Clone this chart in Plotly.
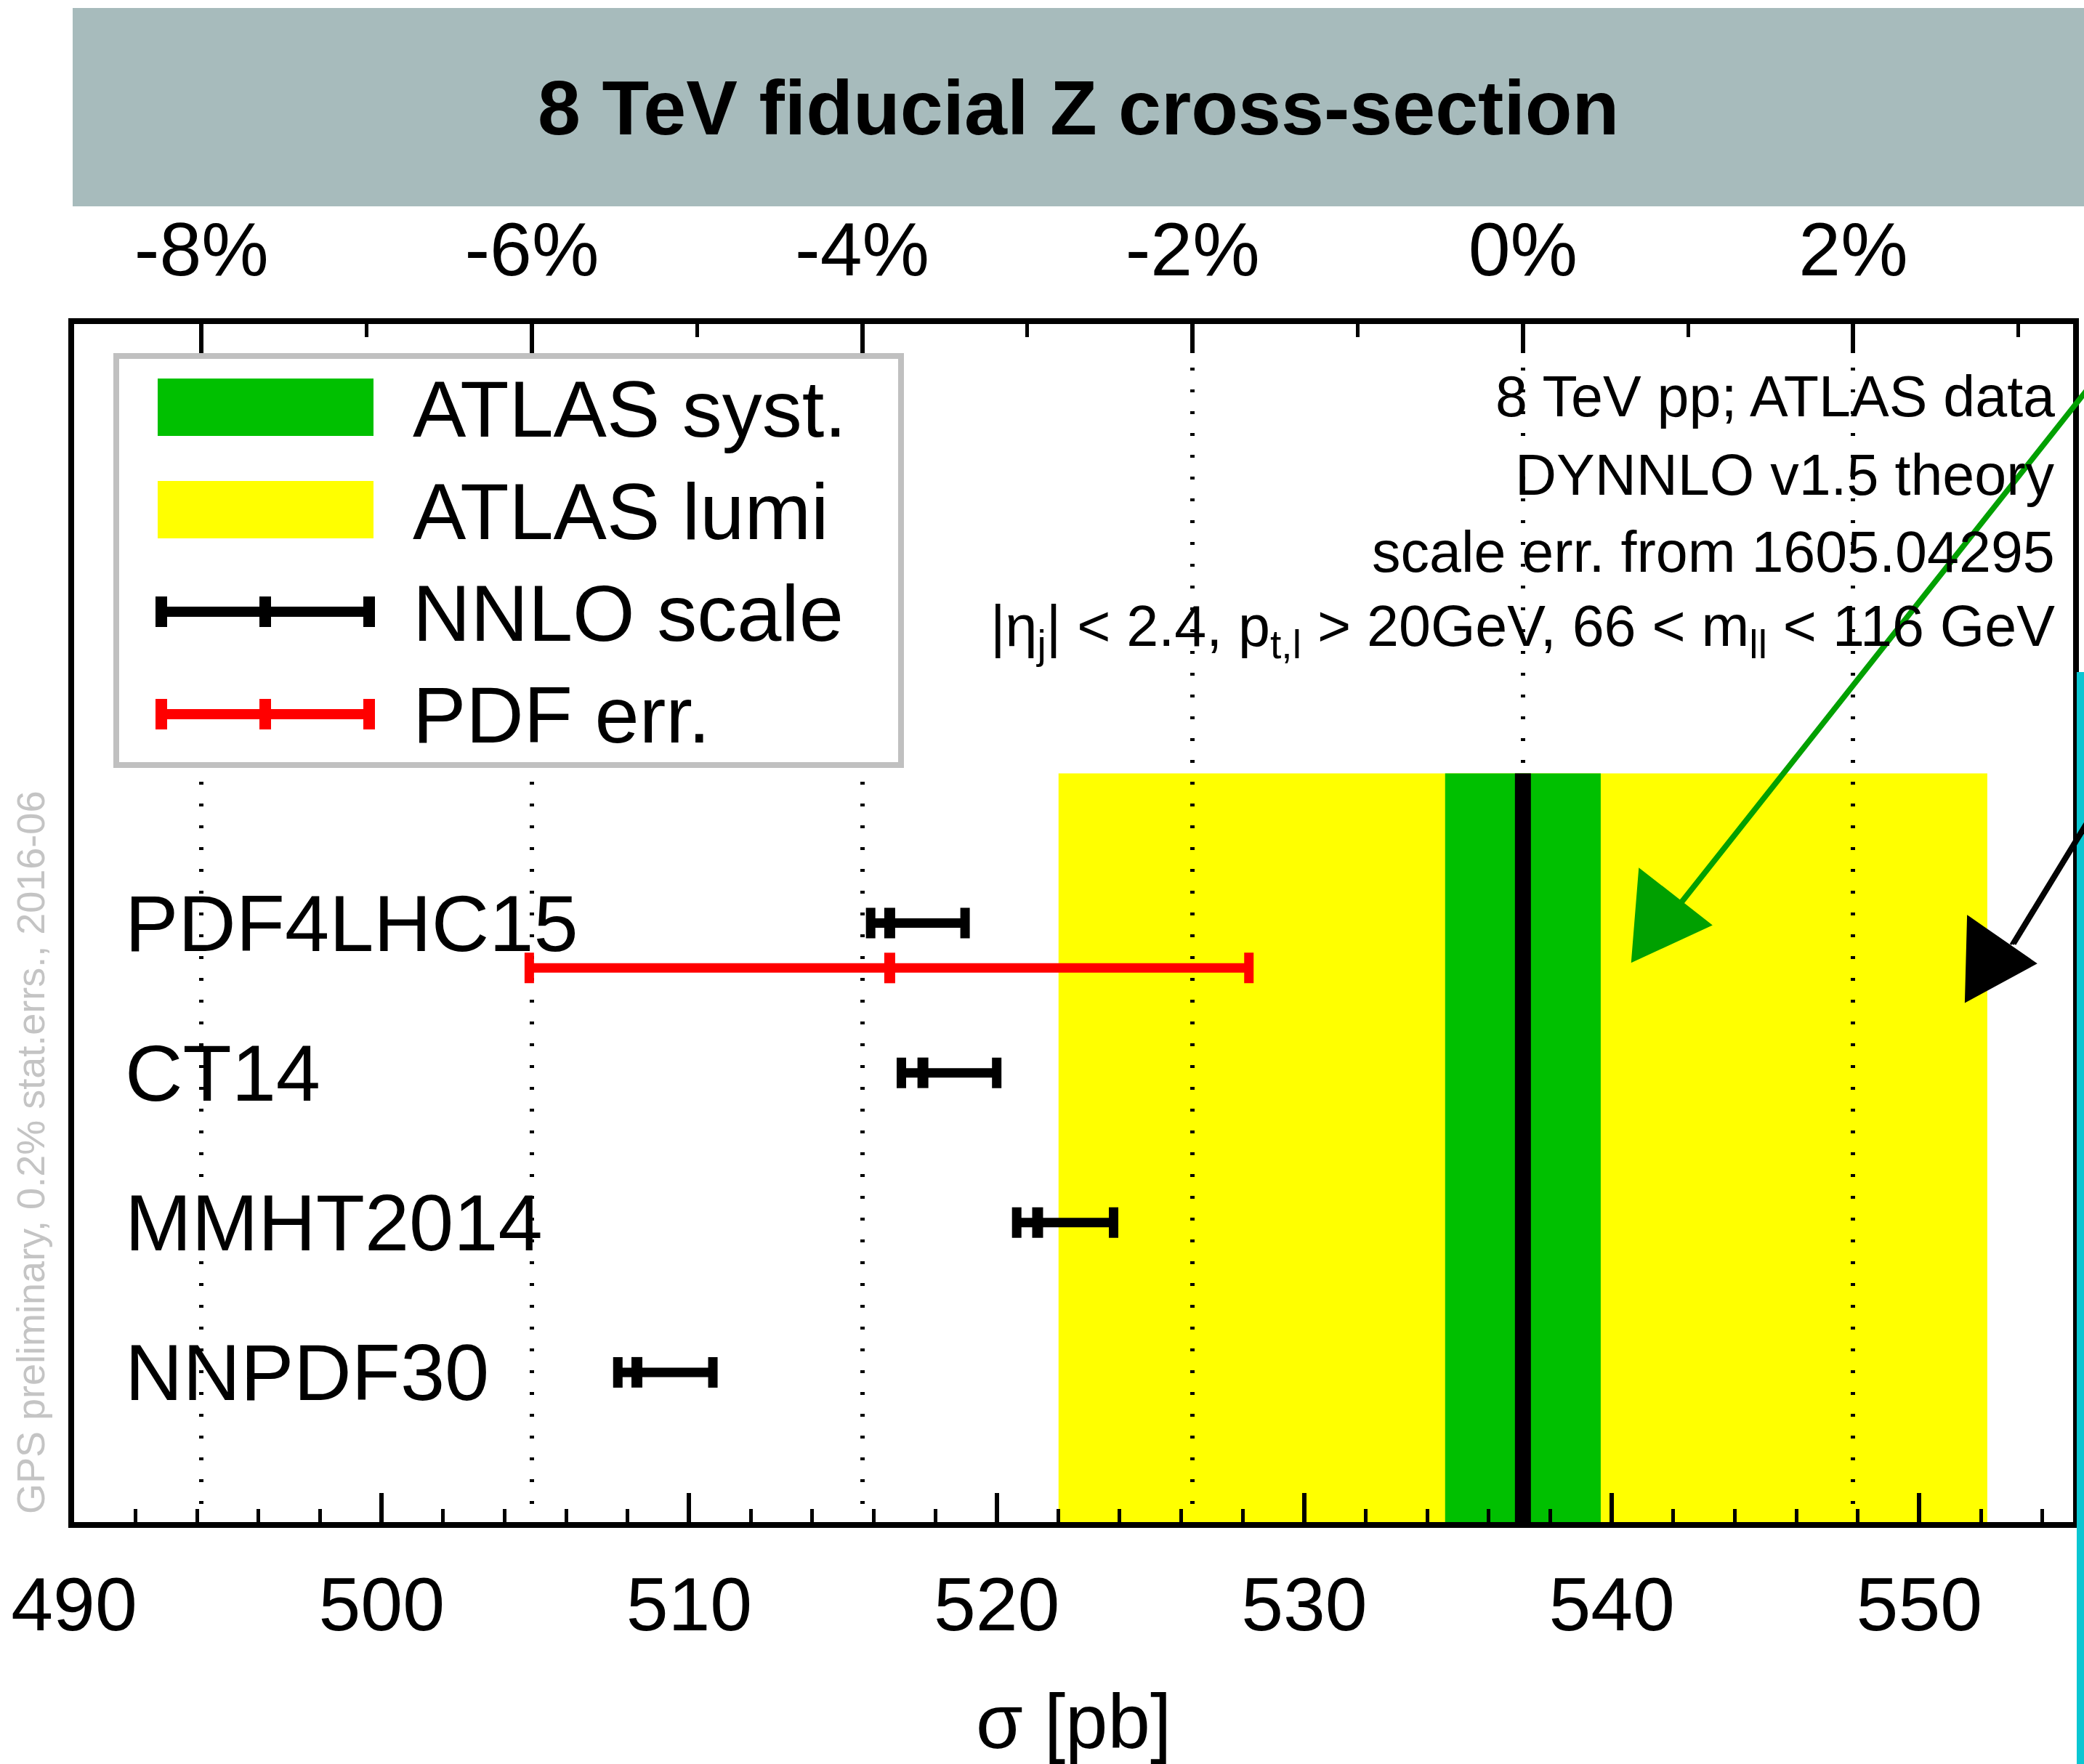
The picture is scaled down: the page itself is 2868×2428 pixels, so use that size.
import plotly.graph_objects as go

# ---------------- data ----------------
pdf_sets = ["PDF4LHC15", "CT14", "MMHT2014", "NNPDF30"]
theory_central = [516.52, 517.60, 521.33, 508.30]
scale_low = [515.90, 516.90, 520.65, 507.68]
scale_high = [518.97, 520.00, 523.80, 510.77]

pdf_err_set = "PDF4LHC15"
pdf_err_low = 504.8
pdf_err_high = 528.2

atlas_central = 537.11
atlas_syst = 2.53
atlas_lumi = 15.1

x_ticks = [490, 500, 510, 520, 530, 540, 550]
pct_ticks = [-8, -6, -4, -2, 0, 2]
pct_labels = ["-8%", "-6%", "-4%", "-2%", "0%", "2%"]

legend_labels = ["ATLAS syst.", "ATLAS lumi", "NNLO scale", "PDF err."]
info_lines = [
    "8 TeV pp; ATLAS data",
    "DYNNLO v1.5 theory",
    "scale err. from 1605.04295",
    "|η<sub>j</sub>| &lt; 2.4, p<sub>t,l</sub> &gt; 20GeV, 66 &lt; m<sub>ll</sub> &lt; 116 GeV",
]
watermark = "GPS preliminary, 0.2% stat.errs., 2016-06"
title_text = "8 TeV fiducial Z cross-section"
x_title = "σ [pb]"

# ---------------- geometry ----------------
W, H = 2868, 2428
ML, MR, MT, MB = 102, 15, 446, 333
PW, PH = W - ML - MR, H - MT - MB
FONT = "Liberation Sans, Arial, Helvetica, sans-serif"

def px(x):
    return (x - ML) / PW

def py(y):
    return (H - MB - y) / PH

n = len(pdf_sets)
rows = [n - i for i in range(n)]
pdf_row = rows[pdf_sets.index(pdf_err_set)] - 0.3
band_top = n + 1

fig = go.Figure()

# NNLO scale error bars
fig.add_trace(go.Scatter(
    x=theory_central, y=rows, mode="markers",
    marker=dict(symbol="line-ns", size=30, color="black",
                line=dict(color="black", width=15)),
    error_x=dict(type="data", symmetric=False,
                 array=[h - c for h, c in zip(scale_high, theory_central)],
                 arrayminus=[c - l for c, l in zip(theory_central, scale_low)],
                 color="black", thickness=13, width=21),
    showlegend=False, hoverinfo="skip", cliponaxis=False,
))

# PDF error bar
pc = theory_central[pdf_sets.index(pdf_err_set)]
fig.add_trace(go.Scatter(
    x=[pc], y=[pdf_row], mode="markers",
    marker=dict(symbol="line-ns", size=30, color="red",
                line=dict(color="red", width=15)),
    error_x=dict(type="data", symmetric=False,
                 array=[pdf_err_high - pc], arrayminus=[pc - pdf_err_low],
                 color="red", thickness=13, width=21),
    showlegend=False, hoverinfo="skip", cliponaxis=False,
))

# trace carrying the percent axis
fig.add_trace(go.Scatter(x=[0], y=[-10], xaxis="x2", yaxis="y", mode="markers",
                         marker=dict(size=1, opacity=0),
                         showlegend=False, hoverinfo="skip"))

shapes = []
# ATLAS bands (below gridlines)
shapes.append(dict(type="rect", xref="x", yref="y", layer="below",
                   x0=atlas_central - atlas_lumi, x1=atlas_central + atlas_lumi,
                   y0=0, y1=band_top, fillcolor="#ffff00", line=dict(width=0)))
shapes.append(dict(type="rect", xref="x", yref="y", layer="below",
                   x0=atlas_central - atlas_syst, x1=atlas_central + atlas_syst,
                   y0=0, y1=band_top, fillcolor="#00c000", line=dict(width=0)))
shapes.append(dict(type="line", xref="x", yref="y", layer="below",
                   x0=atlas_central, x1=atlas_central, y0=0, y1=band_top,
                   line=dict(color="black", width=22)))

# title band
shapes.append(dict(type="rect", xref="paper", yref="paper", layer="above",
                   x0=px(100), x1=px(2900), y0=py(11), y1=py(284),
                   fillcolor="#a7bbbc", line=dict(width=0)))
# cyan strip at right
shapes.append(dict(type="rect", xref="paper", yref="paper", layer="above",
                   x0=px(2858), x1=px(2880), y0=py(925), y1=py(2440),
                   fillcolor="#0ac6d2", line=dict(width=0)))

# legend box
shapes.append(dict(type="rect", xref="paper", yref="paper", layer="above",
                   x0=px(160), x1=px(1240), y0=py(490), y1=py(1053),
                   fillcolor="white", line=dict(color="#c0c0c0", width=8)))
shapes.append(dict(type="rect", xref="paper", yref="paper", layer="above",
                   x0=px(217), x1=px(514), y0=py(521), y1=py(600),
                   fillcolor="#00c000", line=dict(width=0)))
shapes.append(dict(type="rect", xref="paper", yref="paper", layer="above",
                   x0=px(217), x1=px(514), y0=py(662), y1=py(741),
                   fillcolor="#ffff00", line=dict(width=0)))
for yc, col in [(842, "black"), (983, "red")]:
    shapes.append(dict(type="line", xref="paper", yref="paper", layer="above",
                       x0=px(222), x1=px(508), y0=py(yc), y1=py(yc),
                       line=dict(color=col, width=14)))
    for xc in (222, 365, 508):
        shapes.append(dict(type="line", xref="paper", yref="paper", layer="above",
                           x0=px(xc), x1=px(xc), y0=py(yc - 21), y1=py(yc + 21),
                           line=dict(color=col, width=16)))

# hand-drawn style arrows
def path(pts, close=False):
    s = "M " + " L ".join(f"{px(a):.5f},{py(b):.5f}" for a, b in pts)
    return s + (" Z" if close else "")

for col, start, end, tri in [
    ("#00a000", (2875, 533), (2306, 1252), [(2257, 1198), (2353, 1273), (2247, 1322)]),
    ("#000000", (2875, 1128), (2770, 1300), [(2709, 1263), (2800, 1326), (2706, 1377)]),
]:
    for dx in (-3, 0, 3):
        shapes.append(dict(type="path", xref="paper", yref="paper", layer="above",
                           path=path([(start[0] + dx, start[1]), (end[0] + dx, end[1])]),
                           line=dict(color=col, width=3)))
    shapes.append(dict(type="path", xref="paper", yref="paper", layer="above",
                       path=path(tri, close=True), fillcolor=col,
                       line=dict(color=col, width=4)))

annotations = []
# title
annotations.append(dict(text=f"<b>{title_text}</b>", xref="paper", yref="paper",
                        x=px(1484), y=py(148), xanchor="center", yanchor="middle",
                        showarrow=False, font=dict(family=FONT, size=106, color="black")))
# category labels
for name, r in zip(pdf_sets, rows):
    annotations.append(dict(text=name, xref="paper", yref="y", x=px(170), y=r,
                            xanchor="left", yanchor="middle", showarrow=False,
                            font=dict(family=FONT, size=110, color="black")))
# legend labels
for lab, yc in zip(legend_labels, [562, 703, 843, 984]):
    annotations.append(dict(text=lab, xref="paper", yref="paper", x=px(566), y=py(yc),
                            xanchor="left", yanchor="middle", showarrow=False,
                            font=dict(family=FONT, size=110, color="black")))
# info text
for line, yc in zip(info_lines, [545, 653, 759, 867]):
    annotations.append(dict(text=line, xref="paper", yref="paper", x=px(2830), y=py(yc),
                            xanchor="right", yanchor="middle", showarrow=False,
                            font=dict(family=FONT, size=79, color="black")))
# watermark
annotations.append(dict(text=watermark, xref="paper", yref="paper", x=px(42), y=py(1587),
                        xanchor="center", yanchor="middle", textangle=-90, showarrow=False,
                        font=dict(family=FONT, size=54, color="#c4c4c4")))

pct_range = [(490 / atlas_central - 1) * 100, (555 / atlas_central - 1) * 100]

fig.update_layout(
    width=W, height=H,
    margin=dict(l=ML, r=MR, t=MT, b=MB, autoexpand=False),
    paper_bgcolor="white", plot_bgcolor="white",
    showlegend=False,
    shapes=shapes, annotations=annotations,
    font=dict(family=FONT, color="black"),
    xaxis=dict(
        range=[490, 555], tickmode="array", tickvals=x_ticks,
        ticks="inside", ticklen=40, tickwidth=6, tickcolor="black",
        minor=dict(tick0=490, dtick=2, ticks="inside", ticklen=18, tickwidth=5,
                   tickcolor="black", showgrid=False),
        showline=True, mirror=True, linewidth=8, linecolor="black",
        showgrid=False, zeroline=False,
        tickfont=dict(family=FONT, size=104, color="black"),
        ticklabelstandoff=16,
        title=dict(text=x_title, font=dict(family=FONT, size=105, color="black"),
                   standoff=106),
        automargin=False,
    ),
    xaxis2=dict(
        overlaying="x", side="top", anchor="y", range=pct_range,
        tickmode="array", tickvals=pct_ticks, ticktext=pct_labels,
        ticks="inside", ticklen=40, tickwidth=6, tickcolor="black",
        minor=dict(tickmode="linear", tick0=0, dtick=1, ticks="inside", ticklen=18,
                   tickwidth=5, tickcolor="black", showgrid=False),
        showline=False, zeroline=False,
        showgrid=True, gridcolor="black", gridwidth=6, griddash="4px,26px",
        tickfont=dict(family=FONT, size=104, color="black"),
        ticklabelstandoff=45,
        automargin=False,
    ),
    yaxis=dict(
        range=[0, 8], showline=True, mirror=True, linewidth=8, linecolor="black",
        showticklabels=False, ticks="", showgrid=False, zeroline=False,
        automargin=False,
    ),
)

fig.write_html("out.html")
